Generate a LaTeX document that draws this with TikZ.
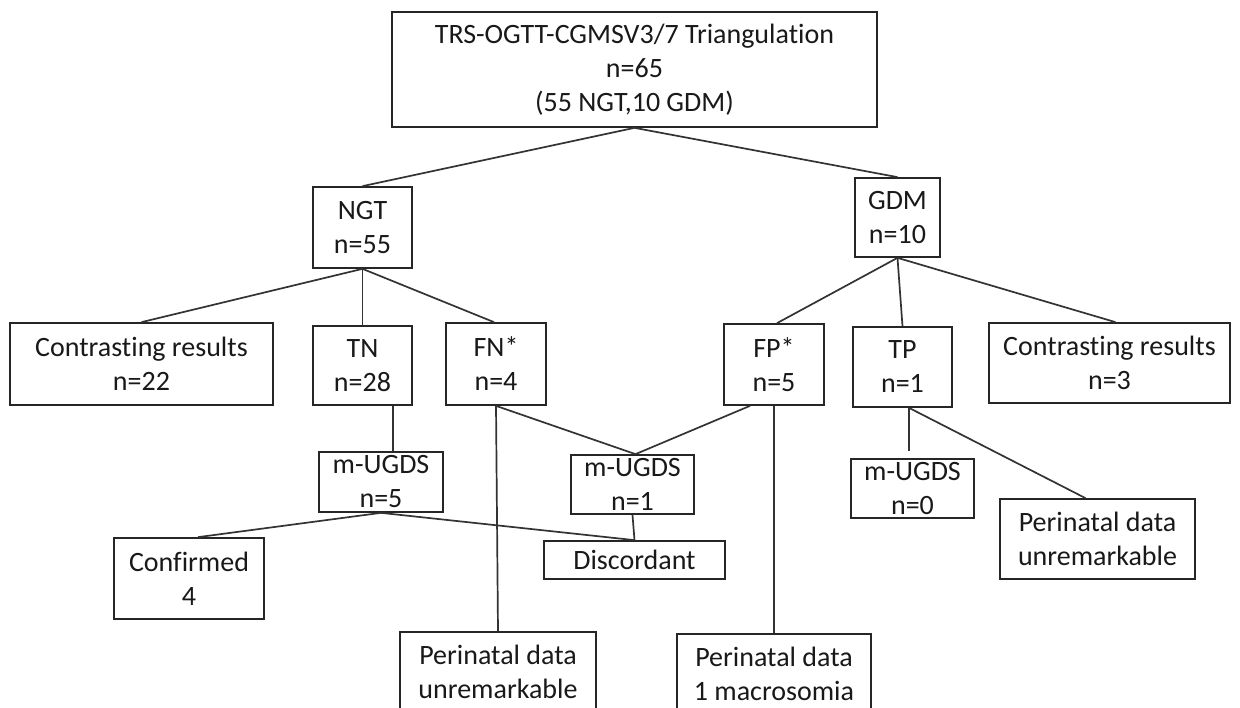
\documentclass[tikz,border=0pt]{standalone}
\usepackage{fontspec}
\setmainfont{Carlito}[Ligatures=NoCommon]
\usetikzlibrary{calc}
\begin{document}
\begin{tikzpicture}[x=1pt,y=-1pt,
  box/.style={draw=black!85, line width=1.7pt, inner sep=0pt, align=center,
    text=black!90, font=\fontsize{28}{34}\selectfont},
  conn/.style={draw=black!80, line width=1.7pt}]
\clip (0,0) rectangle (1240,708);
\useasboundingbox (0,0) rectangle (1240,708);
\fill[white] (0,0) rectangle (1240,708);
% row 1
\node[box, minimum width=485pt, minimum height=115pt] (top) at (634.5,69.5) {TRS-OGTT-CGMSV3/7 Triangulation\\n=65\\(55 NGT,10 GDM)};
% row 2
\node[box, minimum width=99pt, minimum height=81pt] (ngt) at (362.5,227.5) {NGT\\n=55};
\node[box, minimum width=85pt, minimum height=79pt] (gdm) at (897.5,217.5) {GDM\\n=10};
% row 3
\node[box, minimum width=263pt, minimum height=82pt] (crl) at (141.5,364) {Contrasting results\\n=22};
\node[box, minimum width=99pt, minimum height=79pt] (tn) at (362.5,365.5) {TN\\n=28};
\node[box, minimum width=100pt, minimum height=82pt] (fn) at (496,364) {FN*\\n=4};
\node[box, minimum width=100pt, minimum height=81pt] (fp) at (774,364.5) {FP*\\n=5};
\node[box, minimum width=99pt, minimum height=80pt] (tp) at (902.5,367) {TP\\n=1};
\node[box, minimum width=241pt, minimum height=80pt] (crr) at (1109.5,363) {Contrasting results\\n=3};
% row 4
\node[box, minimum width=124pt, minimum height=60pt] (mu5) at (381,482) {m-UGDS\\n=5};
\node[box, minimum width=123pt, minimum height=59pt] (mu1) at (632.5,484.5) {m-UGDS\\n=1};
\node[box, minimum width=123pt, minimum height=59pt] (mu0) at (912.5,488.5) {m-UGDS\\n=0};
\node[box, minimum width=195pt, minimum height=80pt] (pur) at (1097.5,539) {Perinatal data\\unremarkable};
% row 5
\node[box, minimum width=150pt, minimum height=81pt] (conf) at (189,578.5) {Confirmed\\4};
\node[box, minimum width=181pt, minimum height=38pt] (disc) at (634.5,560) {Discordant};
% row 6
\node[box, minimum width=196pt, minimum height=80pt] (pul) at (498,672) {Perinatal data\\unremarkable};
\node[box, minimum width=194pt, minimum height=80pt] (pm) at (774,674) {Perinatal data\\1 macrosomia};
% connectors
\coordinate (tnout) at ($(tn.south)+(30.5,0)$);
\coordinate (fpout) at ($(fp.south)+(-24,0)$);
\coordinate (tpout) at ($(tp.south)+(6.5,0)$);
\coordinate (mu0in) at ($(mu0.north)+(-3.5,-7)$);
\draw[conn] (top.south) -- (ngt.north);
\draw[conn] (top.south) -- (gdm.north);
\draw[conn] (ngt.south) -- (crl.north);
\draw[conn] (ngt.south) -- (tn.north);
\draw[conn] (ngt.south) -- ($(fn.north)+(-2,0)$);
\draw[conn] (gdm.south) -- ($(fp.north)+(3,0)$);
\draw[conn] (gdm.south) -- (tp.north);
\draw[conn] (gdm.south) -- ($(crr.north)+(6,0)$);
\draw[conn] (tnout) -- (tnout |- mu5.north);
\draw[conn] (fn.south) -- ($(mu1.north)+(3,0)$);
\draw[conn] (fpout) -- ($(mu1.north)+(3,0)$);
\draw[conn] (fn.south) -- (pul.north);
\draw[conn] (fp.south) -- (pm.north);
\draw[conn] (mu5.south) -- ($(conf.north)+(9,0)$);
\draw[conn] (mu5.south) -- (disc.north);
\draw[conn] (mu1.south) -- (disc.north);
\draw[conn] (tpout) -- (mu0in);
\draw[conn] (tpout) -- ($(pur.north)+(-12,0)$);
\end{tikzpicture}
\end{document}
